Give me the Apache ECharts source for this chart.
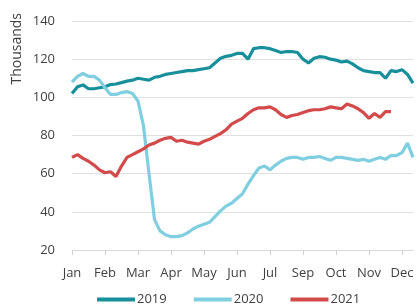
<!DOCTYPE html>
<html>
<head>
<meta charset="utf-8">
<script src="https://cdn.jsdelivr.net/npm/echarts@6/dist/echarts.min.js"></script>
<style>html,body{margin:0;padding:0;background:#fff}#c{width:417px;height:307px}</style>
</head>
<body>
<div id="c"></div>
<script>
// Tick labels (one every 6 points)
var monthLabels = ['Jan','Feb','Mar','Apr','May','Jun','Jul','Sep','Oct','Nov','Dec'];
var pointsPerLabel = 6;
var totalPoints = 63;

// Series values (thousands)
var s2019 = [102,105.5,106.5,104.5,104.5,105,105.5,106.7,107,107.7,108.5,109,110,109.5,109,110.5,111,112,112.5,113,113.5,114,114,114.5,115,115.5,118,120.5,121.5,122,123,123,120,125.5,126,126,125.5,124.5,123.5,124,124,123.5,120,118,120.5,121.3,121,120,119.5,118.5,119,117.5,115.5,114,113.5,113,113,110,114,113.5,114.5,112,107.5];
var s2020 = [108,111,112.5,111,111,109,105,101.5,101.5,102.5,103,102,98,85,60,36,30,28,27,27,27.5,29,31,32.5,33.5,34.5,37.5,40.5,43,44.5,47,49.5,54.5,59,63,64,62,64.5,66.5,68,68.5,68.5,67.5,68.5,68.5,69,68,67,68.5,68.5,68,67.5,67,67.5,66.5,67.5,68.5,67.5,69.5,69.5,71,76,68.5];
var s2021 = [68.5,70,68,66.5,64.5,62,60.5,61,58.5,64,68.5,70,71.5,73,75,76,77.5,78.5,79,77,77.5,76.5,76,75.5,77,78,79.5,81,83,86,87.5,89,91.5,93.5,94.5,94.5,95,93.5,91,89.5,90.5,91,92,93,93.5,93.5,94,95,94.5,94,96.5,95.5,94,92,89,91.5,89.5,92.5,92.5];

var categories = [];
for (var i = 0; i < totalPoints; i++) {
  categories.push(i % pointsPerLabel === 0 ? (monthLabels[i / pointsPerLabel] || '') : '');
}

var FONT = '"Open Sans", "Noto Sans", sans-serif';
var chart = echarts.init(document.getElementById('c'));
function mk(name, data, color) {
  return {name: name, type: 'line', data: data, showSymbol: false, symbol: 'none',
    lineStyle: {width: 3.2, color: color}, itemStyle: {color: color}, smooth: false};
}
chart.setOption({
  animation: false,
  grid: {left: 72, right: 4, top: 21, bottom: 57},
  xAxis: {
    type: 'category', data: categories, boundaryGap: false,
    axisLine: {show: true, lineStyle: {color: '#d9d9d9', width: 1}},
    axisTick: {show: true, interval: function(idx){return idx % pointsPerLabel === 0;}, length: 5, lineStyle: {color: '#d0d0d0'}},
    axisLabel: {interval: function(idx){return idx % pointsPerLabel === 0;}, color: '#404040', fontSize: 13, fontFamily: FONT, margin: 17},
    splitLine: {show: false}
  },
  yAxis: {
    type: 'value', min: 20, max: 140, interval: 20,
    axisLine: {show: false}, axisTick: {show: false},
    axisLabel: {color: '#404040', fontSize: 13, fontFamily: FONT, margin: 17},
    splitLine: {lineStyle: {color: '#e0e0e0', width: 1}}
  },
  legend: {
    top: 288, left: 92, itemWidth: 38, itemHeight: 4, itemGap: 27, icon: 'rect',
    textStyle: {color: '#404040', fontSize: 13, fontFamily: FONT, padding: [0,0,0,-3]},
    data: ['2019','2020','2021']
  },
  graphic: [{
    type: 'text', left: 10, top: 13, rotation: Math.PI / 2,
    style: {text: 'Thousands', fill: '#404040', fontSize: 14, fontFamily: FONT}
  }],
  series: [
    mk('2019', s2019, '#17909b'),
    mk('2020', s2020, '#7fcfe0'),
    mk('2021', s2021, '#d24a4a')
  ]
});
</script>
</body>
</html>
